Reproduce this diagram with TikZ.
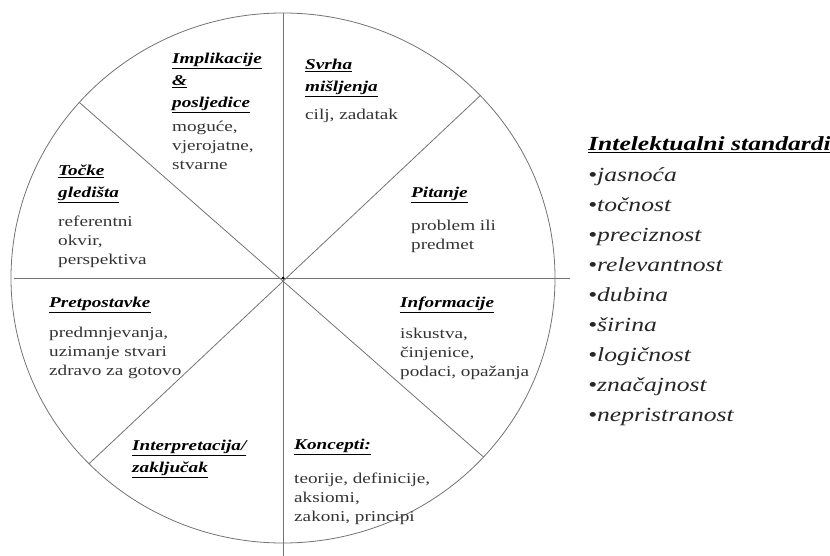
\documentclass[tikz,border=0pt]{standalone}
\usepackage{fontspec}
\setmainfont{Liberation Serif}[FakeStretch=1.28]
\usetikzlibrary{positioning}
\newcommand{\hd}[1]{\underline{#1}}
\tikzset{
	wheel/.style={draw=black!55, line width=0.8pt},
	head/.style={anchor=north west, align=left, font=\fontsize{15}{22}\selectfont\bfseries\itshape},
	body/.style={anchor=north west, align=left, text=black!80, font=\fontsize{15}{19}\selectfont},
	stdhead/.style={anchor=north west, align=left, font=\fontsize{20}{24}\selectfont\bfseries\itshape},
	stdlist/.style={anchor=north west, align=left, text=black!85, font=\fontsize{20}{30}\selectfont\itshape}
}
\begin{document}
\begin{tikzpicture}[x=1pt, y=1pt]
	\tikzstyle{every node}+=[inner sep=0pt]
	\useasboundingbox (0,0) rectangle (830,-556);
	% wheel
	\coordinate (c) at (283,-278);
	\draw [wheel] (c) ellipse (272 and 265);
	\coordinate (n) at (283,-13);
	\coordinate (s) at (283,-556);
	\coordinate (w) at (14,-278);
	\coordinate (e) at (570,-278);
	\coordinate (nw) at ([shift={(c)}]138.5:272 and 265);
	\coordinate (ne) at ([shift={(c)}]43.5:272 and 265);
	\coordinate (se) at ([shift={(c)}]-42.5:272 and 265);
	\coordinate (sw) at ([shift={(c)}]-135.5:272 and 265);
	\draw [wheel] (n) -- (s);
	\draw [wheel] (w) -- (e);
	\draw [wheel] (nw) -- (se);
	\draw [wheel] (ne) -- (sw);
	\fill [black] (c) circle (1.5);
	% sectors
	\node [head] (svrha) at (305,-59) {\hd{Svrha}\\ \hd{mišljenja}};
	\node [body, below=12pt of svrha.south west, anchor=north west] (svrhatxt) {cilj, zadatak};
	\node [head] (impl) at (172,-53) {\hd{Implikacije}\\ \hd{\&}\\ \hd{posljedice}};
	\node [body, below=8pt of impl.south west, anchor=north west] (impltxt) {moguće,\\ vjerojatne,\\ stvarne};
	\node [head] (tocke) at (58,-165) {\hd{Točke}\\ \hd{gledišta}};
	\node [body, below=13pt of tocke.south west, anchor=north west] (tocketxt) {referentni\\ okvir,\\ perspektiva};
	\node [head] (pitanje) at (411,-187) {\hd{Pitanje}};
	\node [body, below=17pt of pitanje.south west, anchor=north west] (pitanjetxt) {problem ili\\ predmet};
	\node [head] (pretp) at (49,-297) {\hd{Pretpostavke}};
	\node [body, below=14pt of pretp.south west, anchor=north west] (pretptxt) {predmnjevanja,\\ uzimanje stvari\\ zdravo za gotovo};
	\node [head] (inform) at (400,-297) {\hd{Informacije}};
	\node [body, below=15pt of inform.south west, anchor=north west] (informtxt) {iskustva,\\ činjenice,\\ podaci, opažanja};
	\node [head] (interp) at (132,-440) {\hd{Interpretacija/}\\ \hd{zaključak}};
	\node [head] (konc) at (294,-439) {\hd{Koncepti:}};
	\node [body, below=18pt of konc.south west, anchor=north west] (konctxt) {teorije, definicije,\\ aksiomi,\\ zakoni, principi};
	% intellectual standards
	\node [stdhead] (std) at (588,-136) {\hd{Intelektualni standardi}};
	\node [stdlist, below=15pt of std.south west, anchor=north west] (stdtxt) {•jasnoća\\ •točnost\\ •preciznost\\ •relevantnost\\ •dubina\\ •širina\\ •logičnost\\ •značajnost\\ •nepristranost};
\end{tikzpicture}
\end{document}
